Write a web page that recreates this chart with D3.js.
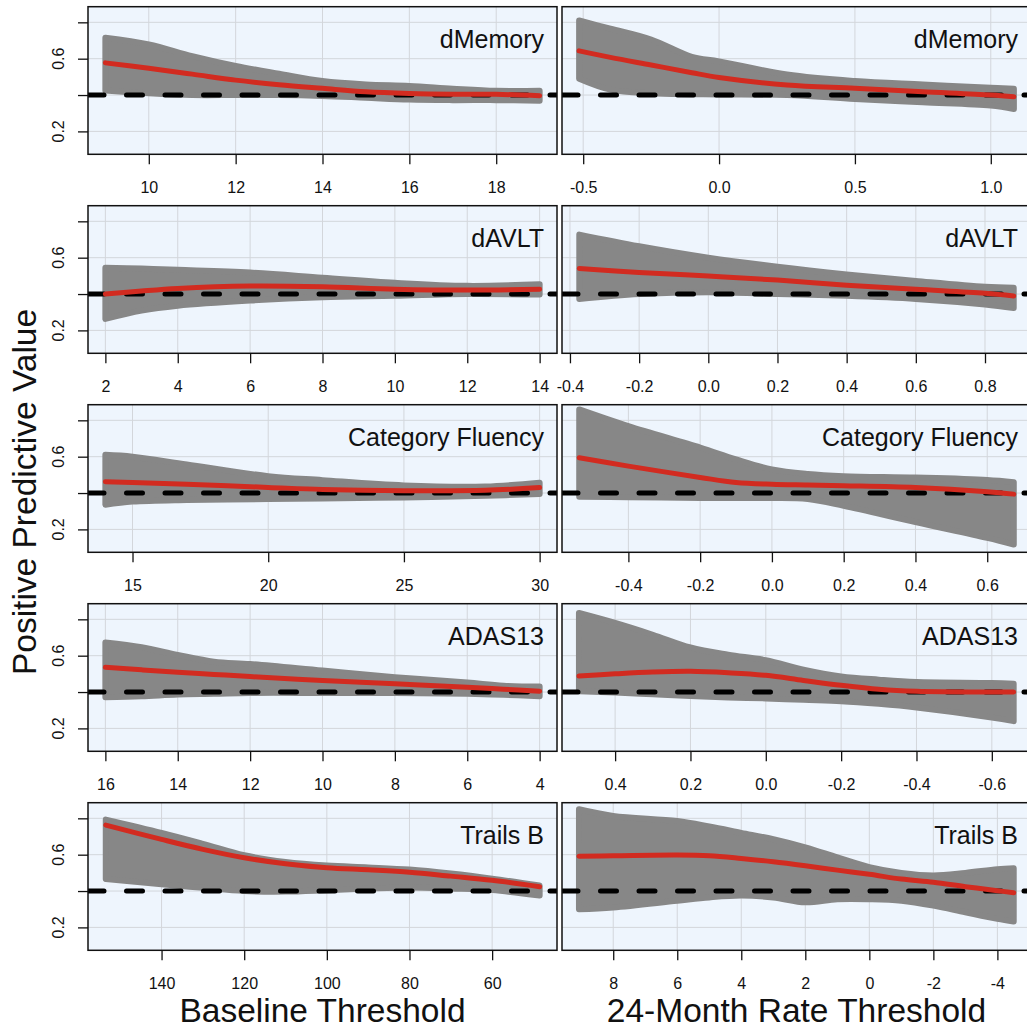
<!DOCTYPE html>
<html>
<head>
<meta charset="utf-8">
<script src="https://cdn.jsdelivr.net/npm/d3@7"></script>
<style>
  body { margin: 0; background: #fff; }
  svg { display: block; font-family: "Liberation Sans", Arial, sans-serif; }
</style>
</head>
<body>
<div id="chart"></div>
<script>
// panel labels, one per row
var rowNames = ["dMemory", "dAVLT", "Category Fluency", "ADAS13", "Trails B"];

// baseline threshold panels (left column)
var memBaseX   = [9, 10, 11, 12, 13, 14, 15, 16, 17, 18, 19];
var memBaseFit = [0.577, 0.547, 0.515, 0.482, 0.457, 0.437, 0.418, 0.409, 0.405, 0.404, 0.396];
var memBaseLo  = [0.425, 0.41, 0.40, 0.40, 0.40, 0.395, 0.385, 0.375, 0.372, 0.372, 0.368];
var memBaseHi  = [0.715, 0.678, 0.614, 0.56, 0.517, 0.477, 0.458, 0.45, 0.435, 0.423, 0.423];

var avltBaseX   = [2, 3, 4, 6, 8, 10, 12, 14];
var avltBaseFit = [0.40, 0.417, 0.431, 0.444, 0.44, 0.427, 0.422, 0.426];
var avltBaseLo  = [0.263, 0.309, 0.336, 0.364, 0.382, 0.39, 0.40, 0.397];
var avltBaseHi  = [0.545, 0.54, 0.533, 0.518, 0.49, 0.462, 0.445, 0.454];

var catBaseX   = [14, 15, 17, 20, 22, 25, 28, 30];
var catBaseFit = [0.462, 0.458, 0.448, 0.431, 0.42, 0.413, 0.415, 0.43];
var catBaseLo  = [0.336, 0.353, 0.362, 0.367, 0.37, 0.376, 0.385, 0.395];
var catBaseHi  = [0.61, 0.60, 0.557, 0.493, 0.471, 0.442, 0.436, 0.457];

var adasBaseX   = [16, 15, 14, 13, 12, 10, 8, 6, 5, 4];
var adasBaseFit = [0.536, 0.522, 0.509, 0.497, 0.485, 0.463, 0.445, 0.427, 0.416, 0.405];
var adasBaseLo  = [0.372, 0.377, 0.386, 0.39, 0.395, 0.395, 0.395, 0.39, 0.385, 0.377];
var adasBaseHi  = [0.672, 0.646, 0.604, 0.567, 0.554, 0.518, 0.482, 0.452, 0.435, 0.43];

var trailsBaseX   = [153.5, 140, 130, 120, 110, 100, 90, 80, 70, 60, 48.5];
var trailsBaseFit = [0.763, 0.684, 0.629, 0.583, 0.55, 0.528, 0.517, 0.504, 0.482, 0.459, 0.424];
var trailsBaseLo  = [0.466, 0.437, 0.418, 0.40, 0.397, 0.405, 0.414, 0.42, 0.414, 0.405, 0.375];
var trailsBaseHi  = [0.793, 0.72, 0.66, 0.597, 0.56, 0.54, 0.53, 0.518, 0.496, 0.468, 0.43];

// 24-month rate threshold panels (right column)
var memRateX   = [-0.515, -0.4, -0.25, -0.1, 0, 0.25, 0.5, 0.75, 1, 1.085];
var memRateFit = [0.643, 0.607, 0.565, 0.523, 0.497, 0.455, 0.437, 0.418, 0.40, 0.39];
var memRateLo  = [0.49, 0.43, 0.41, 0.405, 0.403, 0.40, 0.378, 0.36, 0.342, 0.323];
var memRateHi  = [0.81, 0.765, 0.705, 0.61, 0.585, 0.513, 0.477, 0.458, 0.44, 0.435];

var avltRateX   = [-0.373, -0.2, 0, 0.2, 0.4, 0.6, 0.8, 0.883];
var avltRateFit = [0.541, 0.519, 0.499, 0.477, 0.449, 0.426, 0.404, 0.389];
var avltRateLo  = [0.373, 0.40, 0.41, 0.40, 0.39, 0.373, 0.342, 0.323];
var avltRateHi  = [0.727, 0.663, 0.60, 0.55, 0.508, 0.472, 0.44, 0.435];

var catRateX   = [-0.537, -0.4, -0.2, -0.1, 0, 0.1, 0.2, 0.4, 0.6, 0.674];
var catRateFit = [0.594, 0.548, 0.486, 0.458, 0.448, 0.444, 0.44, 0.43, 0.407, 0.394];
var catRateLo  = [0.38, 0.377, 0.373, 0.373, 0.373, 0.367, 0.33, 0.24, 0.153, 0.117];
var catRateHi  = [0.86, 0.768, 0.65, 0.585, 0.53, 0.505, 0.493, 0.485, 0.472, 0.46];

var adasRateX   = [0.496, 0.4, 0.3, 0.2, 0.1, 0, -0.1, -0.2, -0.3, -0.4, -0.6, -0.658];
var adasRateFit = [0.488, 0.50, 0.51, 0.514, 0.506, 0.492, 0.464, 0.437, 0.415, 0.404, 0.40, 0.40];
var adasRateLo  = [0.405, 0.397, 0.388, 0.378, 0.37, 0.365, 0.357, 0.35, 0.335, 0.315, 0.26, 0.24];
var adasRateHi  = [0.835, 0.78, 0.715, 0.645, 0.605, 0.575, 0.523, 0.486, 0.468, 0.455, 0.45, 0.445];

var trailsRateX   = [9.07, 8, 6, 5, 4, 3, 2, 1, 0, -1, -2, -3, -4, -4.51];
var trailsRateFit = [0.592, 0.594, 0.598, 0.594, 0.579, 0.561, 0.539, 0.515, 0.492, 0.466, 0.448, 0.424, 0.402, 0.391];
var trailsRateLo  = [0.30, 0.31, 0.347, 0.365, 0.375, 0.365, 0.338, 0.355, 0.355, 0.347, 0.32, 0.283, 0.247, 0.232];
var trailsRateHi  = [0.85, 0.813, 0.785, 0.755, 0.72, 0.685, 0.64, 0.585, 0.532, 0.50, 0.486, 0.50, 0.52, 0.525];

// axis ranges and ticks
var baseDomains = [[8.6, 19.4], [1.52, 14.48], [13.36, 30.64], [16.48, 3.52], [157.8, 44.3]];
var rateDomains = [[-0.578, 1.148], [-0.423, 0.933], [-0.585, 0.722], [0.541, -0.704], [9.6, -5.05]];
var baseTicks = [[10, 12, 14, 16, 18], [2, 4, 6, 8, 10, 12, 14], [15, 20, 25, 30], [16, 14, 12, 10, 8, 6, 4], [140, 120, 100, 80, 60]];
var rateTicks = [[-0.5, 0, 0.5, 1], [-0.4, -0.2, 0, 0.2, 0.4, 0.6, 0.8], [-0.4, -0.2, 0, 0.2, 0.4, 0.6], [0.4, 0.2, 0, -0.2, -0.4, -0.6], [8, 6, 4, 2, 0, -2, -4]];
var rateDecimals = [1, 1, 1, 1, 0];
var yDomain = [0.074, 0.886];
var yTicks = [0.2, 0.4, 0.6, 0.8];
var yLabelled = [0.2, 0.6];
var refLine = 0.4;

var baseSeries = [
    [memBaseX, memBaseFit, memBaseLo, memBaseHi],
    [avltBaseX, avltBaseFit, avltBaseLo, avltBaseHi],
    [catBaseX, catBaseFit, catBaseLo, catBaseHi],
    [adasBaseX, adasBaseFit, adasBaseLo, adasBaseHi],
    [trailsBaseX, trailsBaseFit, trailsBaseLo, trailsBaseHi]
];
var rateSeries = [
    [memRateX, memRateFit, memRateLo, memRateHi],
    [avltRateX, avltRateFit, avltRateLo, avltRateHi],
    [catRateX, catRateFit, catRateLo, catRateHi],
    [adasRateX, adasRateFit, adasRateLo, adasRateHi],
    [trailsRateX, trailsRateFit, trailsRateLo, trailsRateHi]
];

var areaWidth = 1027, areaHeight = 1031;
var colX = [88, 562];
var panelW = 469, panelH = 147.6;
var rowTop = 6.7, rowPitch = 199;

var svg = d3.select("#chart").append("svg")
    .attr("width", areaWidth).attr("height", areaHeight);

var yScale = d3.scaleLinear().domain(yDomain).range([panelH, 0]);

function drawPanel(row, col) {
    var s = col == 0 ? baseSeries[row] : rateSeries[row];
    var dom = col == 0 ? baseDomains[row] : rateDomains[row];
    var ticks = col == 0 ? baseTicks[row] : rateTicks[row];
    var dec = col == 0 ? 0 : rateDecimals[row];
    var xScale = d3.scaleLinear().domain(dom).range([0, panelW]);

    var g = svg.append("g")
        .attr("transform", "translate(" + colX[col] + "," + (rowTop + row * rowPitch) + ")");

    var clipId = "clip" + row + "_" + col;
    g.append("clipPath").attr("id", clipId)
        .append("rect").attr("width", panelW).attr("height", panelH);

    g.append("rect")
        .attr("width", panelW).attr("height", panelH)
        .style("fill", "#eef5fd");

    var inner = g.append("g").attr("clip-path", "url(#" + clipId + ")");

    // grid
    inner.selectAll(".gx").data(ticks).enter().append("line")
        .attr("x1", function(d) { return xScale(d); })
        .attr("x2", function(d) { return xScale(d); })
        .attr("y1", 0).attr("y2", panelH)
        .style("stroke", "#d3d6db").style("stroke-width", 1);
    inner.selectAll(".gy").data(yTicks).enter().append("line")
        .attr("x1", 0).attr("x2", panelW)
        .attr("y1", function(d) { return yScale(d); })
        .attr("y2", function(d) { return yScale(d); })
        .style("stroke", "#d3d6db").style("stroke-width", 1);

    var pts = s[0].map(function(x, i) {
        return { x: x, fit: s[1][i], lo: s[2][i], hi: s[3][i] };
    });

    var band = d3.area()
        .x(function(d) { return xScale(d.x); })
        .y0(function(d) { return yScale(d.lo); })
        .y1(function(d) { return yScale(d.hi); })
        .curve(d3.curveCatmullRom.alpha(0.5));

    inner.append("path").datum(pts)
        .attr("d", band)
        .style("fill", "#878787")
        .style("stroke", "#878787")
        .style("stroke-width", 6)
        .style("stroke-linejoin", "round");

    inner.append("line")
        .attr("x1", 0).attr("x2", panelW)
        .attr("y1", yScale(refLine)).attr("y2", yScale(refLine))
        .style("stroke", "#000")
        .style("stroke-width", 5)
        .style("stroke-dasharray", "16,22.5")
        .style("stroke-linecap", "round");

    var fitLine = d3.line()
        .x(function(d) { return xScale(d.x); })
        .y(function(d) { return yScale(d.fit); })
        .curve(d3.curveCatmullRom.alpha(0.5));

    inner.append("path").datum(pts)
        .attr("d", fitLine)
        .style("fill", "none")
        .style("stroke", "#d22b20")
        .style("stroke-width", 5)
        .style("stroke-linecap", "round");

    g.append("rect")
        .attr("width", panelW).attr("height", panelH)
        .style("fill", "none").style("stroke", "#111").style("stroke-width", 1.5);

    g.append("text")
        .text(rowNames[row])
        .attr("x", panelW - 13).attr("y", 41)
        .attr("text-anchor", "end")
        .style("font-size", "25px").style("fill", "#111");

    // x axis
    var xAxis = d3.axisBottom(xScale)
        .tickValues(ticks)
        .tickSize(10)
        .tickPadding(17)
        .tickFormat(function(d) { return d.toFixed(dec); });
    var ax = g.append("g").attr("transform", "translate(0," + panelH + ")").call(xAxis);
    ax.select(".domain").remove();
    ax.selectAll("line").style("stroke", "#111").style("stroke-width", 1.3);
    ax.selectAll("text").style("font-size", "16px").style("fill", "#111")
        .style("font-family", "Liberation Sans, Arial, sans-serif");

    // y axis only on left column
    if (col == 0) {
        var yAxis = d3.axisLeft(yScale).tickValues(yTicks).tickSize(10).tickFormat("");
        var ay = g.append("g").call(yAxis);
        ay.select(".domain").remove();
        ay.selectAll("line").style("stroke", "#111").style("stroke-width", 1.3);
        g.selectAll(".ylab").data(yLabelled).enter().append("text")
            .text(function(d) { return d.toFixed(1); })
            .attr("transform", function(d) { return "translate(-24," + yScale(d) + ") rotate(-90)"; })
            .attr("text-anchor", "middle")
            .style("font-size", "16px").style("fill", "#111");
    }
}

for (var r = 0; r < rowNames.length; r++) {
    drawPanel(r, 0);
    drawPanel(r, 1);
}

svg.append("text")
    .text("Baseline Threshold")
    .attr("x", colX[0] + panelW / 2).attr("y", 1022)
    .attr("text-anchor", "middle")
    .style("font-size", "33.5px").style("fill", "#111");

svg.append("text")
    .text("24-Month Rate Threshold")
    .attr("x", colX[1] + panelW / 2).attr("y", 1022)
    .attr("text-anchor", "middle")
    .style("font-size", "33.5px").style("fill", "#111");

svg.append("text")
    .text("Positive Predictive Value")
    .attr("transform", "translate(36,492) rotate(-90)")
    .attr("text-anchor", "middle")
    .style("font-size", "33.5px").style("fill", "#111");
</script>
</body>
</html>
